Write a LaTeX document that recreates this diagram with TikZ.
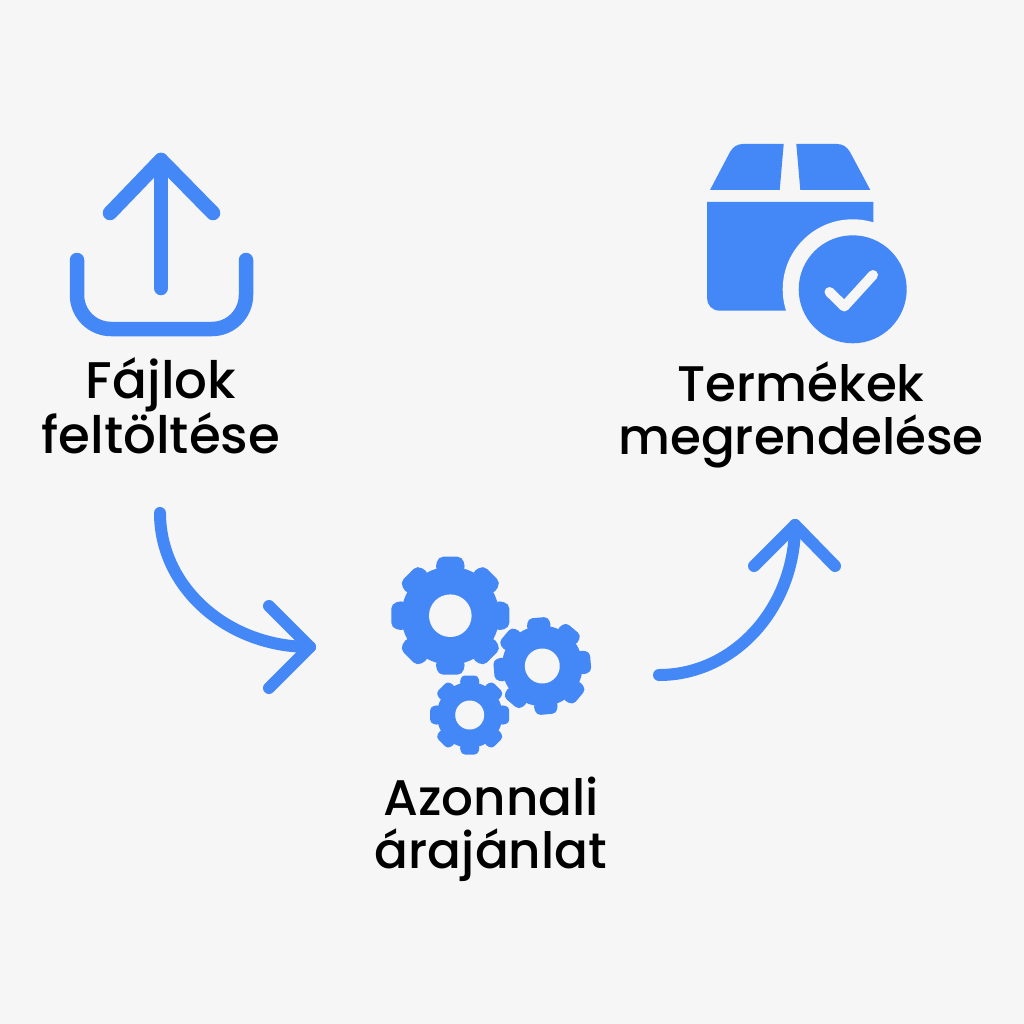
\documentclass[tikz,border=0pt]{standalone}
\usepackage{fontspec}
\setmainfont{Poppins}[UprightFont=* Medium]
\definecolor{bg}{HTML}{F6F6F6}
\definecolor{blu}{HTML}{4487F6}
\tikzset{
 x=1pt,y=-1pt,
 lbl/.style={font=\fontsize{50}{53}\selectfont,align=center,text=black,inner sep=0pt},
 lblb/.style={lbl,font=\fontsize{51.5}{53}\selectfont},
 curve/.style={draw=blu,line width=12pt,line cap=round,line join=round},
 thick stroke/.style={draw=blu,line width=14.5pt,line cap=round,line join=round},
 check/.style={draw=bg,line width=10pt,line cap=round,line join=round}
}
% #1 cx, #2 cy, #3 R, #4 rotation, #5 hole radius
\newcommand{\gearicon}[5]{%
 \begin{scope}[shift={(#1,#2)},rotate=#4]
  \fill[blu] (0,0) circle[radius=0.83*#3];
  \foreach \a in {0,45,...,315}{
   \fill[blu,rounded corners=0.09*#3,rotate=\a]
     (-0.26*#3,-0.75*#3) -- (-0.21*#3,-#3) -- (0.21*#3,-#3) -- (0.26*#3,-0.75*#3) -- cycle;
  }
  \fill[bg] (0,0) circle[radius=#5];
 \end{scope}}
\begin{document}
\begin{tikzpicture}
\useasboundingbox (0,0) rectangle (1024,1024);
\fill[bg] (0,0) rectangle (1024,1024);

% upload icon
\coordinate (shaftA) at (161,288);
\coordinate (shaftB) at (161,160);
\coordinate (headL) at (110,213);
\coordinate (headR) at (213,213);
\draw[thick stroke] (shaftA) -- (shaftB);
\draw[thick stroke] (headL) -- (shaftB) -- (headR);
\draw[thick stroke,rounded corners=34pt] (77,260) -- (77,329) -- (246,329) -- (246,260);

% box icon
\fill[blu] (710,190) -- (730,152) .. controls (733,147) and (737,144) .. (743,144) -- (783.7,144) -- (779.7,190) -- cycle;
\fill[blu] (870.3,190) -- (850,152) .. controls (847,147) and (843,144) .. (837,144) -- (796.3,144) -- (800.3,190) -- cycle;
\fill[blu] (707,202) -- (873.3,202) -- (873.3,289) -- (785,310.7) -- (720,310.7) .. controls (712,310.7) and (707,305) .. (707,298) -- cycle;
\fill[bg] (852.7,289.3) circle[radius=70];
\fill[blu] (852.7,289.3) circle[radius=54];
\draw[check] (829.5,292) -- (844.3,306.5) -- (873,275);

% gears
\gearicon{450.3}{615.7}{59}{0}{21.3}
\gearicon{542.3}{666}{48.5}{5}{17.5}
\gearicon{469.7}{715}{39.5}{0}{14.5}

% connectors
\coordinate (a1s) at (160,513);
\coordinate (a1e) at (310,647);
\coordinate (a1u) at (269,606);
\coordinate (a1d) at (269,688);
\draw[curve] (a1s) .. controls (160,587) and (227,647) .. (a1e);
\draw[curve] (a1u) -- (a1e) -- (a1d);
\coordinate (a2s) at (659,675);
\coordinate (a2e) at (795,525);
\coordinate (a2l) at (754,566);
\coordinate (a2r) at (835,566);
\draw[curve] (a2s) .. controls (734,675) and (795,608) .. (a2e);
\draw[curve] (a2l) -- (a2e) -- (a2r);

% labels
\node[lblb] (t1) at (161,405.5) {Fájlok\\feltöltése};
\node[lbl] (t2) at (801,414.5) {Termékek\\megrendelése};
\node[lbl] (t3) at (491,829) {Azonnali\\árajánlat};
\end{tikzpicture}
\end{document}
